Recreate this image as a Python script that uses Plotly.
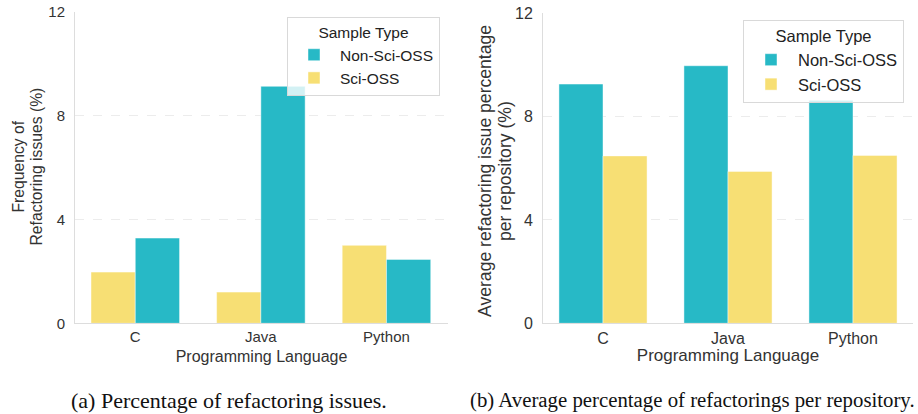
import plotly.graph_objects as go

languages = ["C", "Java", "Python"]
# (a) Frequency of refactoring issues (%)
freq_sci = [1.97, 1.2, 3.0]
freq_nonsci = [3.28, 9.12, 2.46]
# (b) Average refactoring issue percentage per repository (%)
avg_nonsci = [9.26, 9.97, 8.63]
avg_sci = [6.48, 5.88, 6.50]
y_ticks = [0, 4, 8, 12]

TEAL = "#27b9c6"
YELLOW = "#f7df74"
EDGE = "rgba(255,255,255,0.45)"
FONT = "Liberation Sans, Arial, sans-serif"
SERIF = "Liberation Serif, Times New Roman, serif"
TXT = "#333333"

fig = go.Figure()
# left subplot: Sci-OSS first, Non-Sci-OSS second
fig.add_trace(go.Bar(x=languages, y=freq_sci, name="Sci-OSS", marker=dict(color=YELLOW, line=dict(color=EDGE, width=1)),
                     xaxis="x", yaxis="y", legend="legend", legendrank=2, offsetgroup="a1"))
fig.add_trace(go.Bar(x=languages, y=freq_nonsci, name="Non-Sci-OSS", marker=dict(color=TEAL, line=dict(color=EDGE, width=1)),
                     xaxis="x", yaxis="y", legend="legend", legendrank=1, offsetgroup="a2"))
# right subplot: Non-Sci-OSS first, Sci-OSS second
fig.add_trace(go.Bar(x=languages, y=avg_nonsci, name="Non-Sci-OSS", marker=dict(color=TEAL, line=dict(color=EDGE, width=1)),
                     xaxis="x2", yaxis="y2", legend="legend2", legendrank=1, offsetgroup="b1"))
fig.add_trace(go.Bar(x=languages, y=avg_sci, name="Sci-OSS", marker=dict(color=YELLOW, line=dict(color=EDGE, width=1)),
                     xaxis="x2", yaxis="y2", legend="legend2", legendrank=2, offsetgroup="b2"))

W, H = 918, 414
def px_x(a, b):
    return [a / W, b / W]
def px_y(top, bottom):
    return [1 - bottom / H, 1 - top / H]

common_x = dict(showgrid=False, showline=True, linecolor="#dddddd", linewidth=1, ticks="",
                zeroline=False, color=TXT, automargin=False)
common_y = dict(showgrid=True, gridcolor="#ececec", griddash="dash", gridwidth=1, showline=True,
                linecolor="#dddddd", linewidth=1, ticks="", zeroline=False, range=[0, 12],
                tickvals=y_ticks, ticktext=[str(v) for v in y_ticks], color=TXT, automargin=False)

fig.update_layout(
    width=W, height=H,
    margin=dict(l=0, r=0, t=0, b=0, autoexpand=False),
    paper_bgcolor="white", plot_bgcolor="white",
    font=dict(family=FONT, color=TXT),
    barmode="group", bargap=0.295, bargroupgap=0,
    xaxis=dict(common_x, domain=px_x(75, 448), anchor="y", range=[-0.48, 2.49],
               tickfont=dict(size=15), title=dict(text="Programming Language", font=dict(size=16), standoff=6)),
    yaxis=dict(common_y, domain=px_y(11.5, 323.3), anchor="x", tickfont=dict(size=15), ticklabelstandoff=6),
    xaxis2=dict(common_x, domain=px_x(543, 913), anchor="y2", range=[-0.48, 2.48],
                tickfont=dict(size=16), title=dict(text="Programming Language", font=dict(size=17), standoff=3)),
    yaxis2=dict(common_y, domain=px_y(13.3, 323.3), anchor="x2", tickfont=dict(size=16), ticklabelstandoff=6),
    legend=dict(x=287 / W, y=1 - 17 / H, xanchor="left", yanchor="top", itemwidth=42,
                bgcolor="rgba(255,255,255,0.8)", bordercolor="#d9d9d9", borderwidth=1,
                font=dict(size=15.5, color="#222222"),
                title=dict(text="Sample Type", side="top center", font=dict(size=15.5, color="#222222"))),
    legend2=dict(x=743 / W, y=1 - 20 / H, xanchor="left", yanchor="top", itemwidth=44,
                 bgcolor="rgba(255,255,255,0.8)", bordercolor="#d9d9d9", borderwidth=1,
                 font=dict(size=16.5, color="#222222"),
                 title=dict(text="Sample Type", side="top center", font=dict(size=16.5, color="#222222"))),
    showlegend=True,
)

# y-axis titles (two tightly spaced lines each, as in the reference)
ytitles = [
    ("Frequency of", 17.5, 167, 15.7),
    ("Refactoring issues (%)", 35.5, 167, 15.7),
    ("Average refactoring issue percentage", 485, 171, 17.6),
    ("per repository (%)", 505, 171, 17.6),
]
for text, cx, cy, size in ytitles:
    fig.add_annotation(text=text, x=cx / W, y=1 - cy / H, xref="paper", yref="paper",
                       xanchor="center", yanchor="middle", textangle=-90, showarrow=False,
                       font=dict(family=FONT, size=size, color=TXT))

fig.add_annotation(text="(a) Percentage of refactoring issues.", x=228.5 / W, y=1 - 400 / H,
                   xref="paper", yref="paper", xanchor="center", yanchor="middle", showarrow=False,
                   font=dict(family=SERIF, size=22, color="#111111"))
fig.add_annotation(text="(b) Average percentage of refactorings per repository.", x=917 / W, y=1 - 400 / H,
                   xref="paper", yref="paper", xanchor="right", yanchor="middle", showarrow=False,
                   font=dict(family=SERIF, size=20.8, color="#111111"))

fig.write_html("out.html", config={"displayModeBar": False},
               post_script="document.body.style.margin='0';document.body.style.padding='0';")
